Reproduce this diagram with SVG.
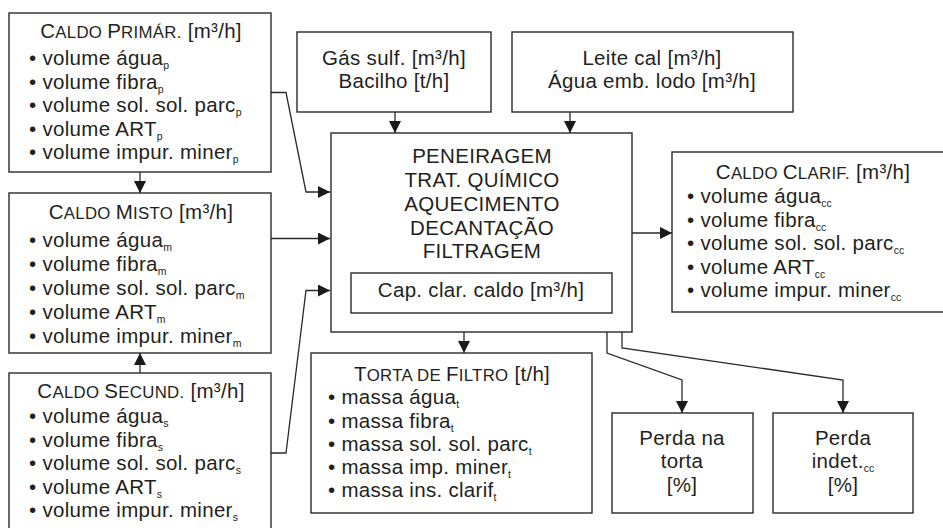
<svg xmlns="http://www.w3.org/2000/svg" width="943" height="528" viewBox="0 0 943 528">
  <style>
    .box { fill: #fff; stroke: #2a2a2a; stroke-width: 1.4; }
    .t { font-family: "Liberation Sans", Arial, sans-serif; font-size: 20.5px; letter-spacing: 0.3px; fill: #231f20; }
    .c { text-anchor: middle; }
    .sc { font-size: 16.8px; }
    .sub { font-size: 10.5px; letter-spacing: 0; }
    .wire { fill: none; stroke: #2a2a2a; stroke-width: 1.3; }
  </style>
  <defs>
    <marker id="ah" viewBox="0 0 12 12" refX="12" refY="6" markerWidth="12" markerHeight="12" markerUnits="userSpaceOnUse" orient="auto">
      <path d="M0,0 L12,6 L0,12 z" fill="#1a1a1a"/>
    </marker>
  </defs>
  <rect width="943" height="528" fill="#fff"/>

  <!-- connectors -->
  <g id="connectors">
    <path class="wire" d="M271,92.5 H286 L306,192 H330" marker-end="url(#ah)"/>
    <path class="wire" d="M271,238.5 H330" marker-end="url(#ah)"/>
    <path class="wire" d="M271,453 H286 L306,290.5 H330" marker-end="url(#ah)"/>
    <path class="wire" d="M140,172 V193" marker-end="url(#ah)"/>
    <path class="wire" d="M140,373 V353" marker-end="url(#ah)"/>
    <path class="wire" d="M395,112 V133" marker-end="url(#ah)"/>
    <path class="wire" d="M570,112 V133" marker-end="url(#ah)"/>
    <path class="wire" d="M632,233 H672" marker-end="url(#ah)"/>
    <path class="wire" d="M464,332 V353" marker-end="url(#ah)"/>
    <path class="wire" d="M607,332 V353 L682,380 V413" marker-end="url(#ah)"/>
    <path class="wire" d="M622,332 V348 L843,380 V413" marker-end="url(#ah)"/>
  </g>

  <!-- primary juice -->
  <g id="caldo-primario">
    <rect class="box" x="9" y="13" width="262" height="159"/>
    <text class="t c" x="141" y="38">C<tspan class="sc">ALDO </tspan>P<tspan class="sc">RIMÁR.</tspan> [m³/h]</text>
    <text class="t" x="29" y="65">• volume água<tspan class="sub" dy="4">p</tspan></text>
    <text class="t" x="29" y="88.5">• volume fibra<tspan class="sub" dy="4">p</tspan></text>
    <text class="t" x="29" y="112">• volume sol. sol. parc<tspan class="sub" dy="4">p</tspan></text>
    <text class="t" x="29" y="135.5">• volume ART<tspan class="sub" dy="4">p</tspan></text>
    <text class="t" x="29" y="159">• volume impur. miner<tspan class="sub" dy="4">p</tspan></text>
  </g>

  <!-- mixed juice -->
  <g id="caldo-misto">
    <rect class="box" x="9" y="193" width="262" height="160"/>
    <text class="t c" x="141" y="219">C<tspan class="sc">ALDO </tspan>M<tspan class="sc">ISTO</tspan> [m³/h]</text>
    <text class="t" x="29" y="247">• volume água<tspan class="sub" dy="4">m</tspan></text>
    <text class="t" x="29" y="271">• volume fibra<tspan class="sub" dy="4">m</tspan></text>
    <text class="t" x="29" y="295">• volume sol. sol. parc<tspan class="sub" dy="4">m</tspan></text>
    <text class="t" x="29" y="319">• volume ART<tspan class="sub" dy="4">m</tspan></text>
    <text class="t" x="29" y="343">• volume impur. miner<tspan class="sub" dy="4">m</tspan></text>
  </g>

  <!-- secondary juice -->
  <g id="caldo-secundario">
    <rect class="box" x="9" y="373" width="262" height="170"/>
    <text class="t c" x="141" y="398">C<tspan class="sc">ALDO </tspan>S<tspan class="sc">ECUND.</tspan> [m³/h]</text>
    <text class="t" x="29" y="423">• volume água<tspan class="sub" dy="4">s</tspan></text>
    <text class="t" x="29" y="446.5">• volume fibra<tspan class="sub" dy="4">s</tspan></text>
    <text class="t" x="29" y="470">• volume sol. sol. parc<tspan class="sub" dy="4">s</tspan></text>
    <text class="t" x="29" y="493.5">• volume ART<tspan class="sub" dy="4">s</tspan></text>
    <text class="t" x="29" y="517">• volume impur. miner<tspan class="sub" dy="4">s</tspan></text>
  </g>

  <!-- sulphur gas / bagacillo -->
  <g id="gas-sulf">
    <rect class="box" x="297" y="32" width="194" height="80"/>
    <text class="t c" x="394" y="65">Gás sulf. [m³/h]</text>
    <text class="t c" x="394" y="88">Bacilho [t/h]</text>
  </g>

  <!-- lime milk / mud wash water -->
  <g id="leite-cal">
    <rect class="box" x="512" y="32" width="281" height="80"/>
    <text class="t c" x="652" y="65">Leite cal [m³/h]</text>
    <text class="t c" x="652" y="88">Água emb. lodo [m³/h]</text>
  </g>

  <!-- clarification process -->
  <g id="processo">
    <rect class="box" x="331" y="133" width="301" height="199"/>
    <text class="t c" x="482" y="163">PENEIRAGEM</text>
    <text class="t c" x="482" y="187">TRAT. QUÍMICO</text>
    <text class="t c" x="482" y="211">AQUECIMENTO</text>
    <text class="t c" x="482" y="234.5">DECANTAÇÃO</text>
    <text class="t c" x="482" y="258">FILTRAGEM</text>
    <rect class="box" x="351" y="273" width="261" height="40"/>
    <text class="t c" x="481" y="297">Cap. clar. caldo [m³/h]</text>
  </g>

  <!-- clarified juice -->
  <g id="caldo-clarificado">
    <rect class="box" x="672" y="152" width="290" height="160"/>
    <text class="t c" x="813" y="179">C<tspan class="sc">ALDO </tspan>C<tspan class="sc">LARIF.</tspan> [m³/h]</text>
    <text class="t" x="687" y="203">• volume água<tspan class="sub" dy="4">cc</tspan></text>
    <text class="t" x="687" y="226.5">• volume fibra<tspan class="sub" dy="4">cc</tspan></text>
    <text class="t" x="687" y="250">• volume sol. sol. parc<tspan class="sub" dy="4">cc</tspan></text>
    <text class="t" x="687" y="273.5">• volume ART<tspan class="sub" dy="4">cc</tspan></text>
    <text class="t" x="687" y="297">• volume impur. miner<tspan class="sub" dy="4">cc</tspan></text>
  </g>

  <!-- filter cake -->
  <g id="torta-filtro">
    <rect class="box" x="311" y="353" width="281" height="160"/>
    <text class="t c" x="452" y="381">T<tspan class="sc">ORTA DE </tspan>F<tspan class="sc">ILTRO</tspan> [t/h]</text>
    <text class="t" x="328" y="404">• massa água<tspan class="sub" dy="4">t</tspan></text>
    <text class="t" x="328" y="427.5">• massa fibra<tspan class="sub" dy="4">t</tspan></text>
    <text class="t" x="328" y="451">• massa sol. sol. parc<tspan class="sub" dy="4">t</tspan></text>
    <text class="t" x="328" y="474">• massa imp. miner<tspan class="sub" dy="4">t</tspan></text>
    <text class="t" x="328" y="497">• massa ins. clarif<tspan class="sub" dy="4">t</tspan></text>
  </g>

  <!-- loss in cake -->
  <g id="perda-torta">
    <rect class="box" x="612" y="413" width="141" height="100"/>
    <text class="t c" x="682" y="445">Perda na</text>
    <text class="t c" x="682" y="468">torta</text>
    <text class="t c" x="682" y="492">[%]</text>
  </g>

  <!-- undetermined loss -->
  <g id="perda-indet">
    <rect class="box" x="773" y="413" width="140" height="100"/>
    <text class="t c" x="843" y="445">Perda</text>
    <text class="t c" x="843" y="468">indet.<tspan class="sub" dy="4">cc</tspan></text>
    <text class="t c" x="843" y="492">[%]</text>
  </g>
</svg>
